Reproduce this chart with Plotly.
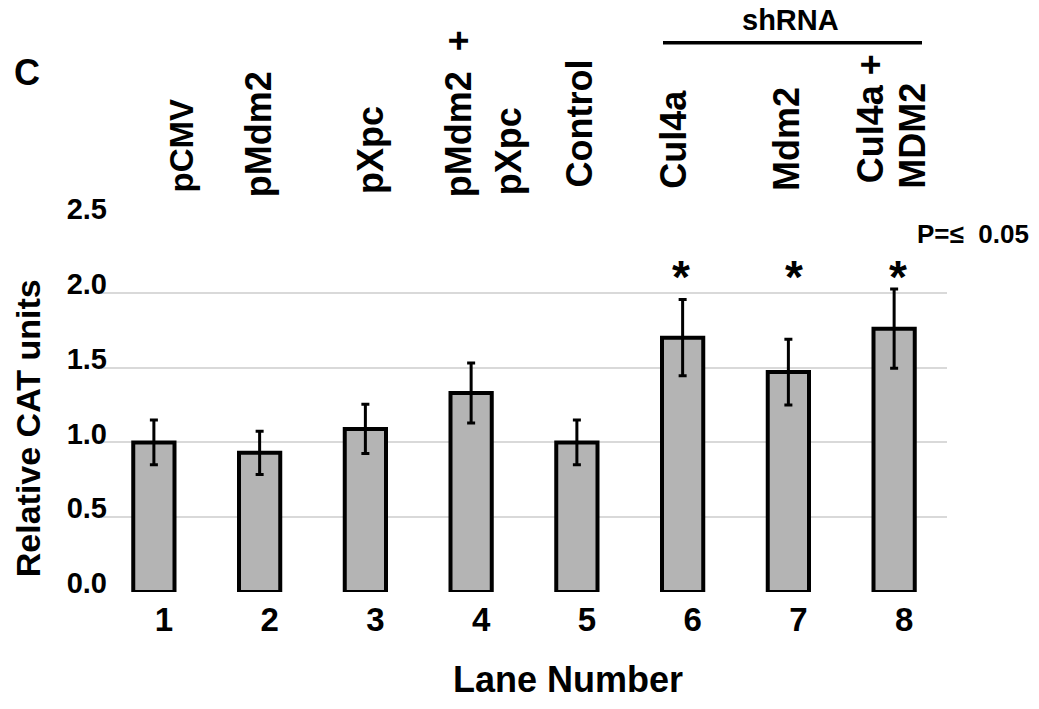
import plotly.graph_objects as go

# ---- data ----
lanes = [1, 2, 3, 4, 5, 6, 7, 8]
values = [1.00, 0.93, 1.09, 1.33, 1.00, 1.70, 1.47, 1.76]
errors = [0.15, 0.145, 0.165, 0.20, 0.15, 0.255, 0.22, 0.265]
significant = [False, False, False, False, False, True, True, True]
lane_labels = [["pCMV"], ["pMdm2"], ["pXpc"], ["pMdm2\u00a0\u00a0+", "pXpc"], ["Control"],
               ["Cul4a"], ["Mdm2"], ["Cul4a\u00a0+", "MDM2"]]
y_ticks = [0.0, 0.5, 1.0, 1.5, 2.0, 2.5]

FONT = "Liberation Sans, Arial, sans-serif"

# ---- layout geometry (window pixels; body margin removed below) ----
W, H = 1039, 709
PL, PR, PT, PB = 101, 947, 217.5, 592.5   # plot area in pixels
L, R, T, B = PL, W - PR, PT, H - PB
PW = PR - PL
PH = PB - PT


def px2x(px):
    return (px - PL) / PW


def py2y(py):
    return (PB - py) / PH


fig = go.Figure()
fig.add_trace(go.Bar(
    x=lanes, y=values, width=0.39,
    marker=dict(color="#b4b4b4", line=dict(color="black", width=4)),
    error_y=dict(type="data", array=errors, color="black", thickness=3, width=4),
    showlegend=False,
))

annotations = []
# rotated lane labels: per-line x-shift (px from bar centre), bottom y (px), font size
label_layout = [
    [(28, 192, 33)],
    [(-1, 197, 36)],
    [(5, 193, 36)],
    [(-13, 197, 36), (37.5, 195, 36)],
    [(3, 187, 36)],
    [(-10, 188, 36)],
    [(-2, 190, 36)],
    [(-24, 183, 36), (18, 188, 36)],
]
for lane, lines, lay in zip(lanes, lane_labels, label_layout):
    for text, (dx, bottom, size) in zip(lines, lay):
        annotations.append(dict(
            x=lane, xref="x", y=py2y(bottom), yref="paper",
            xshift=dx, text="<b>%s</b>" % text, textangle=-90,
            xanchor="center", yanchor="bottom", showarrow=False,
            borderpad=0, borderwidth=0,
            font=dict(family=FONT, size=size, color="black"),
        ))

# significance asterisks
ast_shift = {6: -1.5, 7: 6, 8: 3.5}
for lane, sig in zip(lanes, significant):
    if sig:
        annotations.append(dict(
            x=lane, xref="x", y=py2y(276.5), yref="paper", xshift=ast_shift.get(lane, 0),
            text="<b>*</b>", showarrow=False, xanchor="center", yanchor="middle",
            borderpad=0, borderwidth=0,
            font=dict(family=FONT, size=46, color="black"),
        ))

# other text
annotations += [
    dict(x=px2x(790), y=py2y(18.5), xref="paper", yref="paper", text="<b>shRNA</b>",
         showarrow=False, xanchor="center", yanchor="middle", borderpad=0,
         font=dict(family=FONT, size=29, color="black")),
    dict(x=px2x(916), y=py2y(234.0), xref="paper", yref="paper", text="<b>P=\u2264\u00a0\u00a00.05</b>",
         showarrow=False, xanchor="left", yanchor="middle", borderpad=0,
         font=dict(family=FONT, size=26, color="black")),
    dict(x=px2x(26.5), y=py2y(71.5), xref="paper", yref="paper", text="<b>C</b>",
         showarrow=False, xanchor="center", yanchor="middle", borderpad=0,
         font=dict(family=FONT, size=36, color="black")),
    dict(x=px2x(28.3), y=py2y(428), xref="paper", yref="paper", text="<b>Relative CAT units</b>",
         textangle=-90, showarrow=False, xanchor="center", yanchor="middle", borderpad=0,
         font=dict(family=FONT, size=34, color="black")),
    dict(x=px2x(568), y=py2y(679.9), xref="paper", yref="paper", text="<b>Lane Number</b>",
         showarrow=False, xanchor="center", yanchor="middle", borderpad=0,
         font=dict(family=FONT, size=36, color="black")),
]

shapes = [dict(type="line", xref="paper", yref="paper",
               x0=px2x(663), x1=px2x(922), y0=py2y(41.7), y1=py2y(41.7),
               line=dict(color="black", width=3.5))]

fig.update_layout(
    width=W, height=H,
    margin=dict(l=L, r=R, t=T, b=B, pad=0),
    plot_bgcolor="white", paper_bgcolor="white",
    annotations=annotations, shapes=shapes,
    xaxis=dict(range=[0.5, 8.5], tickvals=lanes, ticktext=["<b>%d</b>" % v for v in lanes],
               showgrid=False, zeroline=False, showline=False, ticks="",
               ticklabelshift=10, ticklabelstandoff=5,
               tickfont=dict(family=FONT, size=33, color="black")),
    yaxis=dict(range=[0, 2.5], tickvals=y_ticks, ticktext=["<b>%.1f</b>" % v for v in y_ticks],
               showgrid=True, gridcolor="#d9d9d9", gridwidth=1.5, zeroline=False,
               showline=False, ticks="", ticklabelshift=-9, ticklabelstandoff=-7,
               tickfont=dict(family=FONT, size=29, color="black")),
)

fig.write_html("out.html", config={"displayModeBar": False},
               post_script="document.body.style.margin='0px';")
